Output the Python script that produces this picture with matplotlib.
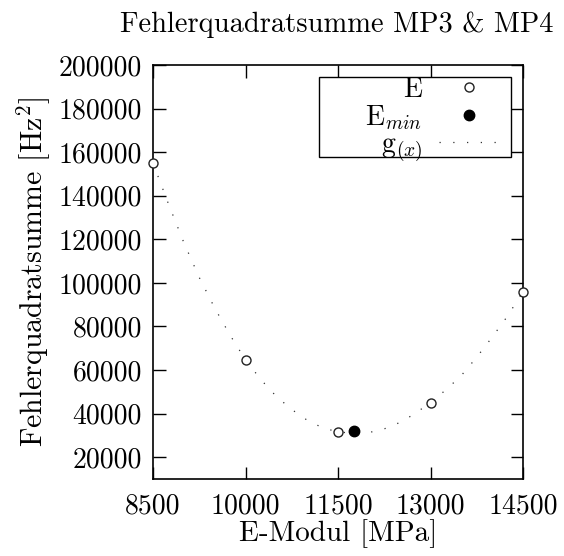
import matplotlib
matplotlib.use("Agg")
import matplotlib.pyplot as plt
from matplotlib.patches import Rectangle

plt.rcParams['font.family'] = 'serif'
plt.rcParams['font.serif'] = ['cmr10']
plt.rcParams['mathtext.fontset'] = 'cm'
plt.rcParams['axes.formatter.use_mathtext'] = True

# data
e_modul = [8500, 10000, 11500, 13000, 14500]
fehler = [155000, 64500, 31500, 45000, 96000]
e_min_x = [11760]
e_min_y = [31800]
g_x = [8500, 8750, 9000, 9250, 9500, 9750, 10000, 10250, 10500, 10750,
       11000, 11250, 11500, 11750, 12000, 12250, 12500, 12750, 13000,
       13250, 13500, 13750, 14000, 14250, 14500]
g_y = [155000, 136300, 118500, 102500, 88500, 76000, 64700, 55600, 47900,
       41900, 37000, 33500, 31600, 31000, 31300, 33000, 35900, 40000,
       45200, 50900, 57500, 65900, 75100, 84800, 96000]
x_ticks = [8500, 10000, 11500, 13000, 14500]
y_ticks = [20000, 40000, 60000, 80000, 100000, 120000, 140000, 160000,
           180000, 200000]

fig = plt.figure(figsize=(5.64, 5.56), dpi=100)
ax = fig.add_axes([153/564, 1-479/556, (523-153)/564, (479-65)/556])

ax.plot(g_x, g_y, linestyle=(0, (1, 10)), color='#333333', lw=0.9,
        label=r'g$_{(x)}$', zorder=2)
ax.plot(e_modul, fehler, linestyle='none', marker='o', ms=6.5,
        mfc='white', mec='#222222', mew=1.0, label='E', zorder=3, clip_on=False)
ax.plot(e_min_x, e_min_y, linestyle='none', marker='o', ms=7.5,
        mfc='black', mec='black', label=r'E$_{min}$', zorder=4)

ax.set_xlim(8500, 14500)
ax.set_ylim(10000, 200000)
ax.set_xticks(x_ticks)
ax.set_xticklabels([str(v) for v in x_ticks])
ax.set_yticks(y_ticks)
ax.set_yticklabels([str(v) for v in y_ticks])
ax.tick_params(direction='in', length=9, width=1.0, top=True, right=True,
               labelsize=20)
ax.tick_params(axis='x', pad=10)
ax.tick_params(axis='y', pad=8)
for s in ax.spines.values():
    s.set_linewidth(1.2)

ax.set_xlabel('E-Modul [MPa]', fontsize=21, labelpad=0)
ax.set_ylabel(r'Fehlerquadratsumme [Hz$^2$]', fontsize=21.5, labelpad=4)
fig.text(0.597, 0.955, 'Fehlerquadratsumme MP3 & MP4', fontsize=20.5,
         ha='center', va='center')

# legend box (frame)
ax.add_patch(Rectangle((0.4486, 0.7778), 0.519, 0.1932, transform=ax.transAxes,
                       facecolor='white', edgecolor='black', lw=1.0,
                       zorder=5, clip_on=False))
h, l = ax.get_legend_handles_labels()
order = [1, 2, 0]
leg = ax.legend([h[i] for i in order], [l[i] for i in order],
                loc='upper right', bbox_to_anchor=(0.9378, 0.972),
                markerfirst=False, fontsize=20, frameon=False,
                borderpad=0, labelspacing=0.0, handlelength=2.2,
                handletextpad=0.6, borderaxespad=0)
leg.set_zorder(6)

fig.savefig('out.png', dpi=100)
